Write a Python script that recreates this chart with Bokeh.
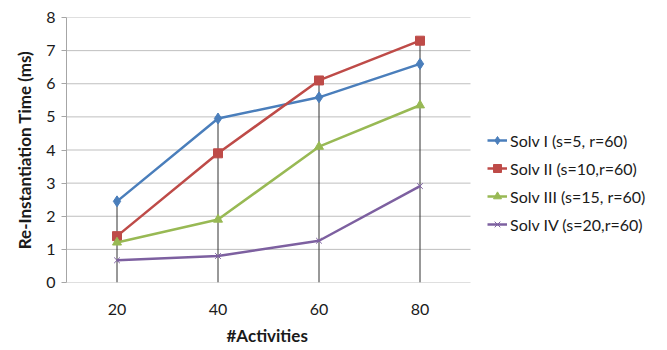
from bokeh.plotting import figure
from bokeh.models import Legend, LegendItem, FixedTicker, Range1d, Title
from bokeh.embed import file_html
from bokeh.resources import INLINE

# Re-instantiation time per number of activities
activities = [20, 40, 60, 80]
solv_i = [2.45, 4.95, 5.59, 6.6]
solv_ii = [1.4, 3.9, 6.1, 7.3]
solv_iii = [1.21, 1.9, 4.1, 5.35]
solv_iv = [0.67, 0.8, 1.26, 2.91]
series_labels = ["Solv I (s=5, r=60)", "Solv II (s=10,r=60)",
                 "Solv III (s=15, r=60)", "Solv IV (s=20,r=60)"]
y_ticks = [0, 1, 2, 3, 4, 5, 6, 7, 8]

FONT = "Lato"
TXT = "#1a1a1a"
colors = ["#4A7EBB", "#BE4B48", "#98B954", "#7D60A0"]

# plotting region spans 10..90 on x; the frame is wider to hold the legend
X_LO, X_HI = 10, 90
FRAME_W = 667 - 66 - 6
x_max = X_LO + FRAME_W * (X_HI - X_LO) / 404

p = figure(width=667, height=350, output_backend="svg", toolbar_location=None,
           x_range=Range1d(X_LO, x_max), y_range=Range1d(0, 8),
           min_border_left=66, min_border_right=6,
           min_border_top=17, min_border_bottom=68)
p.outline_line_color = None
p.background_fill_color = "white"
p.border_fill_color = "white"

# axes
p.xaxis.ticker = FixedTicker(ticks=activities)
p.xaxis.axis_line_color = None
p.xaxis.major_tick_line_color = None
p.xaxis.minor_tick_line_color = None
p.xaxis.major_tick_out = 0
p.xaxis.major_tick_in = 0
p.xaxis.major_label_text_font = FONT
p.xaxis.major_label_text_font_size = "16px"
p.xaxis.major_label_text_color = TXT
p.xaxis.major_label_standoff = 21

p.yaxis.ticker = FixedTicker(ticks=y_ticks)
p.yaxis.axis_line_color = "#A6A6A6"
p.yaxis.major_tick_line_color = "#A6A6A6"
p.yaxis.major_tick_out = 5
p.yaxis.major_tick_in = 0
p.yaxis.minor_tick_line_color = None
p.yaxis.major_label_text_font = FONT
p.yaxis.major_label_text_font_size = "16px"
p.yaxis.major_label_text_color = TXT
p.yaxis.major_label_standoff = 6
p.yaxis.axis_label = "Re-Instantiation Time (ms)"
p.yaxis.axis_label_text_font = FONT
p.yaxis.axis_label_text_font_style = "bold"
p.yaxis.axis_label_text_font_size = "17px"
p.yaxis.axis_label_text_color = TXT
p.yaxis.axis_label_standoff = 8

p.xgrid.grid_line_color = None
p.ygrid.grid_line_color = None

# horizontal gridlines limited to the plotting region
p.segment(x0=[X_LO] * len(y_ticks), y0=y_ticks, x1=[X_HI] * len(y_ticks), y1=y_ticks,
          line_color="#BFBFBF", line_width=1)

# x axis title placed under the plotting region
p.add_layout(Title(text="#Activities", align="left", offset=160,
                   text_font=FONT, text_font_style="bold", text_font_size="17px",
                   text_color=TXT, standoff=10), "below")

# drop lines from the highest series value down to zero
all_series = [solv_i, solv_ii, solv_iii, solv_iv]
tops = [max(vals) for vals in zip(*all_series)]
p.segment(x0=activities, y0=[0] * len(activities), x1=activities, y1=tops,
          line_color="#333333", line_width=1)

items = []
markers = ["diamond", "square", "triangle", "x"]
sizes = [11, 9, 9, 8]
for vals, label, col, mk, sz in zip(all_series, series_labels, colors, markers, sizes):
    ln = p.line(activities, vals, line_color=col, line_width=2.5)
    if mk == "x":
        sc = p.scatter(activities, vals, marker=mk, size=sz, line_color=col,
                       line_width=1)
    else:
        sc = p.scatter(activities, vals, marker=mk, size=sz, fill_color=col,
                       line_color=col)
    items.append(LegendItem(label=label, renderers=[ln, sc]))

legend = Legend(items=items, location=(421, 48), orientation="vertical",
                border_line_color=None, background_fill_alpha=0,
                label_text_font=FONT, label_text_font_size="16px",
                label_text_color=TXT, glyph_width=20, glyph_height=20,
                label_height=20, spacing=8, padding=0, margin=0,
                label_standoff=3)
p.add_layout(legend, "center")

open("out.html", "w").write(file_html(p, INLINE))
